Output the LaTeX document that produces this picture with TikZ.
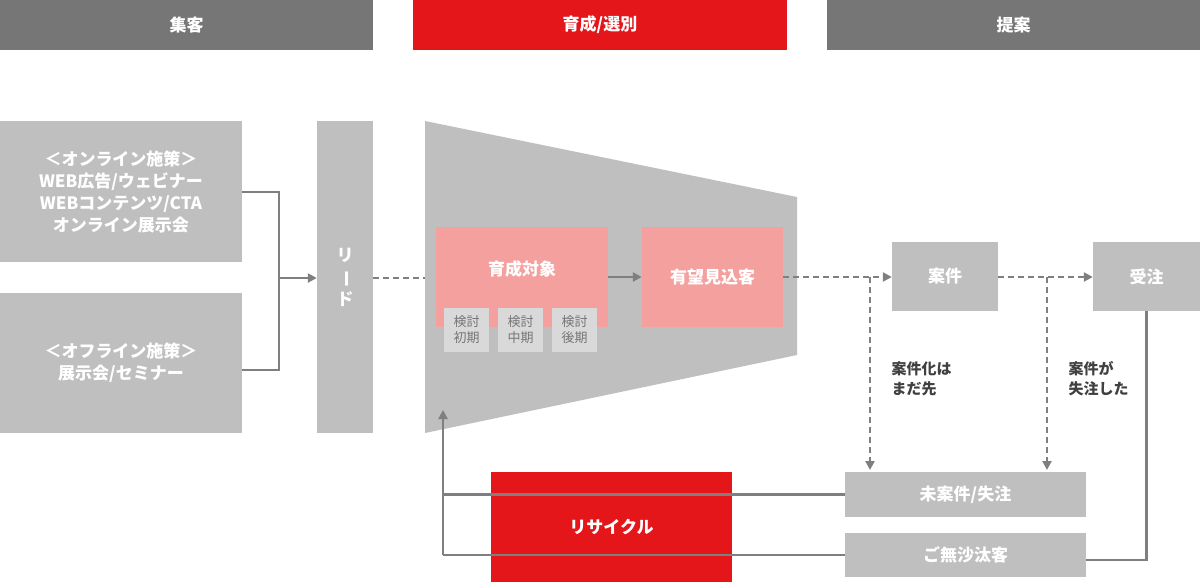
\documentclass[tikz,border=0pt]{standalone}
\usepackage{fontspec}
\usepackage{graphicx}
\setmainfont{Noto Sans CJK JP}
\newfontfamily\jpb{Noto Sans CJK JP}[BoldFont=* Bold]
\usetikzlibrary{arrows.meta}
\definecolor{hgray}{HTML}{767676}
\definecolor{bgray}{HTML}{BFBFBF}
\definecolor{lgray}{HTML}{D9D9D9}
\definecolor{rred}{HTML}{E4161A}
\definecolor{pink}{HTML}{F4A09F}
\definecolor{lcol}{HTML}{7F7F7F}
\definecolor{tdark}{HTML}{404040}
\tikzset{
 box/.style={fill=#1,inner sep=0pt,align=center,text=white,font=\bfseries\fontsize{17}{22}\selectfont},
 lnk/.style={draw=lcol,line width=2.5pt,-{Triangle[length=9pt,width=9pt]}},
 pl/.style={draw=lcol,line width=2.5pt},
 dsh/.style={lnk,dash pattern=on 6pt off 4pt},
 sm/.style={fill=lgray,inner sep=0pt,align=center,text=hgray,font=\fontsize{13}{16}\selectfont},
 lab/.style={text=tdark,align=left,font=\bfseries\fontsize{15}{20}\selectfont}
}
\begin{document}
\begin{tikzpicture}[x=1pt,y=-1pt]
\useasboundingbox (0,0) rectangle (1200,582);
\newcommand\bx[6]{\node[box=#5,minimum width=#3-#1,minimum height=#4-#2] (#6) at ({(#1+#3)/2},{(#2+#4)/2})}
\bx{0}{0}{373}{50}{hgray}{h1} {集客};
\bx{413}{0}{787}{50}{rred}{h2} {育成/選別};
\bx{827}{0}{1200}{50}{hgray}{h3} {提案};
\bx{0}{121}{242}{262}{bgray}{on} {＜オンライン施策＞\\WEB広告/ウェビナー\\WEBコンテンツ/CTA\\オンライン展示会};
\bx{0}{293}{242}{433}{bgray}{off} {＜オフライン施策＞\\展示会/セミナー};
\bx{317}{121}{373}{433}{bgray}{lead} {リ\\\rotatebox[origin=c]{-90}{ー}\\ド};
\fill[bgray] (425,121) -- (797,197) -- (797,355) -- (425,433) -- cycle;
\coordinate (fun) at (425,278);
\coordinate (funb) at (443,410);
\bx{436}{227}{608}{327}{pink}{iku} {\raisebox{0pt}[0pt][0pt]{\raisebox{2pt}{育成対象}}};
\bx{642}{227}{783}{327}{pink}{yubo} {有望見込客};
\node[sm,minimum width=45pt,minimum height=44pt] (s1) at (466.5,330) {検討\\初期};
\node[sm,minimum width=45pt,minimum height=44pt] (s2) at (520.5,330) {検討\\中期};
\node[sm,minimum width=45pt,minimum height=44pt] (s3) at (574.5,330) {検討\\後期};
\bx{892}{242}{998}{311}{bgray}{an} {案件};
\bx{1093}{242}{1200}{311}{bgray}{ju} {受注};
\bx{845}{472}{1086}{517}{bgray}{mi} {未案件/失注};
\bx{845}{533}{1086}{577}{bgray}{go} {ご無沙汰客};
\bx{491}{472}{732}{582}{rred}{re} {リサイクル};
\node[lab,anchor=north west] (l1) at (888,358) {案件化は\\まだ先};
\node[lab,anchor=north west] (l2) at (1065,358) {案件が\\失注した};
\coordinate (j) at (279,278);
\draw[pl] (on.east|-0,192) -| (j);
\draw[pl] (off.east|-0,370) -| (j);
\draw[lnk] (j) -- (lead.west|-j);
\draw[pl,dash pattern=on 6pt off 4pt] (lead.east|-j) -- (fun);
\draw[lnk] (iku.east|-0,277) -- (yubo.west|-0,277);
\draw[dsh] (yubo.east|-0,277) -- (an.west|-0,277);
\draw[dsh] (870,277) -- (870,470);
\draw[dsh] (an.east|-0,277) -- (ju.west|-0,277);
\draw[dsh] (1047,277) -- (1047,470);
\draw[pl] (ju.south|-0,311) |- (go.east|-0,560);
\draw[pl] (mi.west) -- (443,494.5);
\draw[pl] (go.west) -- (443,555);
\draw[lnk] (443,555) -- (funb);
\end{tikzpicture}
\end{document}
